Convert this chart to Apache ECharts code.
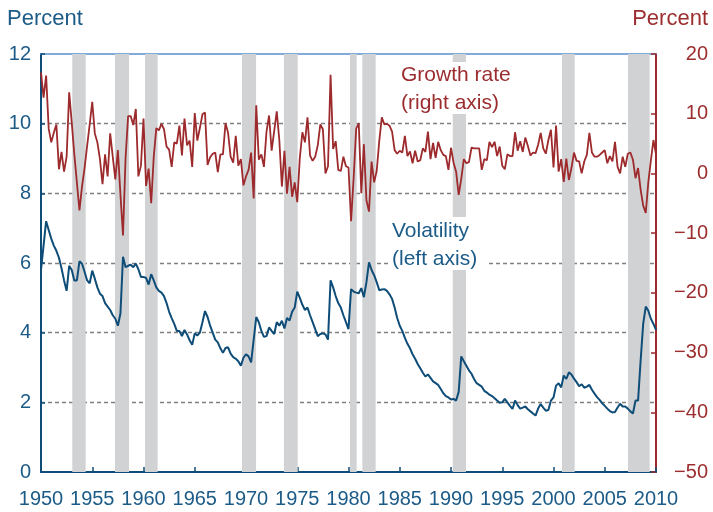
<!DOCTYPE html>
<html>
<head>
<meta charset="utf-8">
<title>Volatility and growth rate</title>
<script src="https://cdn.jsdelivr.net/npm/echarts@6/dist/echarts.min.js"></script>
<style>
    html, body { margin: 0; padding: 0; background: #fff; }
    #chart { width: 713px; height: 512px; }
</style>
</head>
<body>
<div id="chart"></div>
<script>
    // quarterly values, 1950Q1 .. 2010Q1
    var startYear = 1950;

    // growth rate, percent (right axis)
    var growth = [
        16.9, 12.7, 16.4, 7.5,   5.2, 6.8, 8.2, 0.7,   3.6, 0.3, 2.8, 13.6,   8.5, 3.2, -1.5, -6.2,
        -2.2, 0.9, 4.6, 8.2,   12.0, 6.7, 5.2, 2.4,   -1.8, 3.2, -0.5, 6.7,   2.8, -1.0, 3.9, -3.5,
        -10.4, 2.6, 9.6, 9.6,   8.1, 10.8, -0.5, 1.3,   9.2, -2.1, 0.8, -5.0,   2.8, 7.6, 7.2, 8.3,
        7.4, 4.5, 4.0, 1.1,   5.2, 5.0, 8.0, 3.0,   9.2, 4.7, 5.5, 1.1,   10.1, 5.5, 7.6, 9.9,
        10.2, 1.4, 2.7, 3.3,   3.5, 0.2, 3.2, 3.2,   8.4, 6.8, 2.8, 1.8,   6.3, 1.3, 2.4, -2.0,
        -0.5, 0.6, 3.5, -4.2,   11.4, 2.3, 3.2, 1.1,   7.0, 9.7, 3.8, 7.1,   10.4, 5.6, -2.2, 3.8,
        -3.4, 1.1, -3.9, -1.5,   -4.8, 2.6, 6.9, 5.2,   9.4, 3.0, 2.1, 2.8,   4.7, 8.2, 7.4, 0.0,
        1.2, 16.5, 4.1, 5.4,   0.6, 0.4, 2.8, 1.2,   1.0, -8.0, -0.8, 7.5,   8.4, -3.3, 4.9, -4.5,
        -6.4, 2.0, -1.5, 0.4,   5.4, 9.4, 8.2, 8.3,   8.0, 7.0, 3.9, 3.3,   3.8, 3.5, 6.3, 2.9,
        3.7, 1.7, 3.8, 2.0,   2.2, 4.2, 3.6, 7.0,   2.4, 5.1, 2.6, 5.3,   3.9, 3.1, 2.9, 0.6,
        4.3, 1.8, 0.3, -3.6,   -0.9, 2.4, 1.7, 1.9,   4.3, 4.2, 4.2, 4.2,   0.6, 2.4, 2.2, 5.3,
        4.4, 5.3, 2.9, 4.5,   1.3, 0.7, 3.2, 2.9,   2.9, 6.9, 3.8, 5.4,   3.6, 6.0, 4.6, 3.0,
        3.5, 3.4, 4.8, 6.8,   4.2, 3.3, 5.6, 7.3,   1.0, 8.0, 0.3, 2.4,   -1.4, 2.5, -1.1, 0.9,
        3.5, 2.1, 2.0, 0.0,   2.0, 3.1, 6.8, 3.5,   2.8, 2.8, 3.1, 3.5,   3.9, 1.7, 2.9, 2.0,
        5.3, 1.1, 0.0, 2.8,   1.1, 3.3, 3.5, 2.3,   -0.8, 0.9, -2.7, -5.4,   -6.6, -1.5, 2.2, 5.6,
        3.2
    ];

    // volatility, percent (left axis)
    var volatility = [
        5.8, 6.5, 7.2, 6.95,   6.7, 6.5, 6.35, 6.15,   5.85, 5.5, 5.2, 5.92,   5.8, 5.5, 5.5, 6.05,
        5.98, 5.75, 5.5, 5.42,   5.78, 5.55, 5.3, 5.12,   5.05, 4.85, 4.75, 4.65,   4.5, 4.4, 4.2, 4.55,
        6.18, 5.88, 5.92, 5.95,   5.88, 5.98, 5.82, 5.6,   5.6, 5.57, 5.38, 5.68,   5.5, 5.3, 5.2, 5.15,
        5.05, 4.85, 4.6, 4.42,   4.25, 4.05, 4.05, 3.9,   4.08, 3.95, 3.78, 3.65,   3.98, 3.92, 4.0, 4.3,
        4.62, 4.45, 4.2, 4.0,   3.8, 3.72, 3.55, 3.42,   3.56, 3.58, 3.4, 3.3,   3.25, 3.18, 3.05, 3.28,
        3.38, 3.32, 3.15, 3.8,   4.45, 4.3, 4.05, 3.88,   3.9, 4.15, 4.05, 3.96,   4.3, 4.2, 4.34, 4.12,
        4.42, 4.35, 4.6, 4.72,   5.18, 5.0, 4.8, 4.65,   4.72, 4.5, 4.3, 4.1,   3.9, 3.96, 3.98, 3.95,
        3.8, 5.5, 5.3, 5.05,   4.85, 4.72, 4.5, 4.3,   4.1, 5.25, 5.18, 5.15,   5.13, 5.28, 5.02, 5.45,
        6.02, 5.8, 5.65, 5.45,   5.22, 5.24, 5.25, 5.2,   5.1, 4.97, 4.72, 4.42,   4.2, 4.05, 3.85, 3.68,
        3.55, 3.38, 3.25, 3.1,   2.98, 2.85, 2.74, 2.8,   2.7, 2.6, 2.55, 2.5,   2.38, 2.26, 2.18, 2.14,
        2.08, 2.1, 2.05, 2.3,   3.32, 3.18, 3.05, 2.92,   2.82, 2.67, 2.55, 2.5,   2.45, 2.33, 2.28, 2.22,
        2.18, 2.12, 2.05, 1.99,   2.0, 2.1, 2.0, 1.9,   1.81, 2.05, 1.92, 1.82,   1.85, 1.88, 1.8, 1.74,
        1.68, 1.62, 1.82, 1.95,   1.85, 1.76, 1.78, 2.05,   2.14, 2.48, 2.55, 2.43,   2.77, 2.67, 2.86, 2.8,
        2.68, 2.58, 2.46, 2.52,   2.42, 2.45, 2.5, 2.36,   2.25, 2.15, 2.07, 1.97,   1.9, 1.82, 1.75, 1.71,
        1.72, 1.85, 1.96, 1.88,   1.88, 1.82, 1.74, 1.68,   2.05, 2.05, 3.2, 4.25,   4.75, 4.63, 4.4, 4.25,
        4.08
    ];

    // shaded recession periods, start and end in years
    var recessions = [
        [1953.05, 1954.36], [1957.22, 1958.59], [1960.15, 1961.38], [1969.61, 1970.98],
        [1973.70, 1975.04], [1980.15, 1980.80], [1981.35, 1982.65], [1990.17, 1991.46],
        [2000.83, 2002.07], [2007.27, 2009.38]
    ];

    var blue = '#0f4d79';
    var blueText = '#1c5b88';
    var red = '#9d2a2c';
    var redText = '#9b2d2f';

    function toPoints(arr) {
        return arr.map(function (v, i) { return [startYear + i / 4, v]; });
    }

    function minus(v) {
        return v < 0 ? '\u2212' + Math.abs(v) : String(v);
    }

    var bands = recessions.map(function (r) {
        return [{ xAxis: r[0] }, { xAxis: r[1] }];
    });

    var font = 'Liberation Sans, Arial, sans-serif';

    var option = {
        animation: false,
        grid: { left: 41, right: 57, top: 54, bottom: 40 },
        xAxis: [{
            type: 'value',
            min: 1950,
            max: 2010,
            interval: 5,
            axisLine: { onZero: false, lineStyle: { color: blue, width: 2 } },
            axisTick: { inside: true, length: 5, lineStyle: { color: blue, width: 1.5 } },
            axisLabel: {
                color: blueText, fontSize: 20, fontFamily: font, margin: 17,
                formatter: function (v) { return String(v); }
            },
            splitLine: { show: false }
        }, {
            type: 'value',
            position: 'top',
            min: 1950,
            max: 2010,
            axisLine: { onZero: false, lineStyle: { color: '#5a8fd0', width: 1.5 } },
            axisTick: { show: false },
            axisLabel: { show: false },
            splitLine: { show: false }
        }],
        yAxis: [{
            type: 'value',
            min: 0,
            max: 12,
            interval: 2,
            axisLine: { show: true, lineStyle: { color: blue, width: 2 } },
            axisTick: { show: true, inside: true, length: 4, lineStyle: { color: blue, width: 1.5 } },
            axisLabel: { color: blueText, fontSize: 20, fontFamily: font, margin: 10 },
            splitLine: {
                show: true, showMinLine: false, showMaxLine: false,
                lineStyle: { color: '#808080', width: 1.4, type: [4, 3] }
            }
        }, {
            type: 'value',
            position: 'right',
            min: -50,
            max: 20,
            interval: 10,
            axisLine: { show: true, lineStyle: { color: red, width: 2 } },
            axisTick: { show: true, inside: true, length: 5, lineStyle: { color: red, width: 1.5 } },
            axisLabel: {
                color: redText, fontSize: 20, fontFamily: font, margin: 52, align: 'right',
                formatter: minus
            },
            splitLine: { show: false }
        }],
        series: [{
            name: 'Volatility',
            type: 'line',
            yAxisIndex: 0,
            data: toPoints(volatility),
            showSymbol: false,
            lineStyle: { color: blue, width: 2 },
            z: 3,
            markArea: {
                silent: true,
                itemStyle: { color: '#d1d2d4' },
                data: bands
            }
        }, {
            name: 'Growth rate',
            type: 'line',
            yAxisIndex: 1,
            data: toPoints(growth),
            showSymbol: false,
            lineStyle: { color: red, width: 1.8 },
            z: 4
        }],
        graphic: [
            { type: 'rect', shape: { x: 398, y: 62, width: 122, height: 52 }, style: { fill: '#fff' }, z: 50 },
            { type: 'rect', shape: { x: 388, y: 217, width: 98, height: 53 }, style: { fill: '#fff' }, z: 50 },
            { type: 'text', x: 7, y: 19, z: 60, style: { text: 'Percent', fill: blueText, font: '22px ' + font, textVerticalAlign: 'middle' } },
            { type: 'text', x: 708, y: 19, z: 60, style: { text: 'Percent', fill: redText, font: '22px ' + font, textAlign: 'right', textVerticalAlign: 'middle' } },
            { type: 'text', x: 401, y: 75, z: 60, style: { text: 'Growth rate', fill: redText, font: '21px ' + font, textVerticalAlign: 'middle' } },
            { type: 'text', x: 401, y: 103, z: 60, style: { text: '(right axis)', fill: redText, font: '21px ' + font, textVerticalAlign: 'middle' } },
            { type: 'text', x: 392, y: 231, z: 60, style: { text: 'Volatility', fill: blueText, font: '21px ' + font, textVerticalAlign: 'middle' } },
            { type: 'text', x: 392, y: 259, z: 60, style: { text: '(left axis)', fill: blueText, font: '21px ' + font, textVerticalAlign: 'middle' } }
        ]
    };

    var myChart = echarts.init(document.getElementById('chart'));
    myChart.setOption(option);
</script>
</body>
</html>
